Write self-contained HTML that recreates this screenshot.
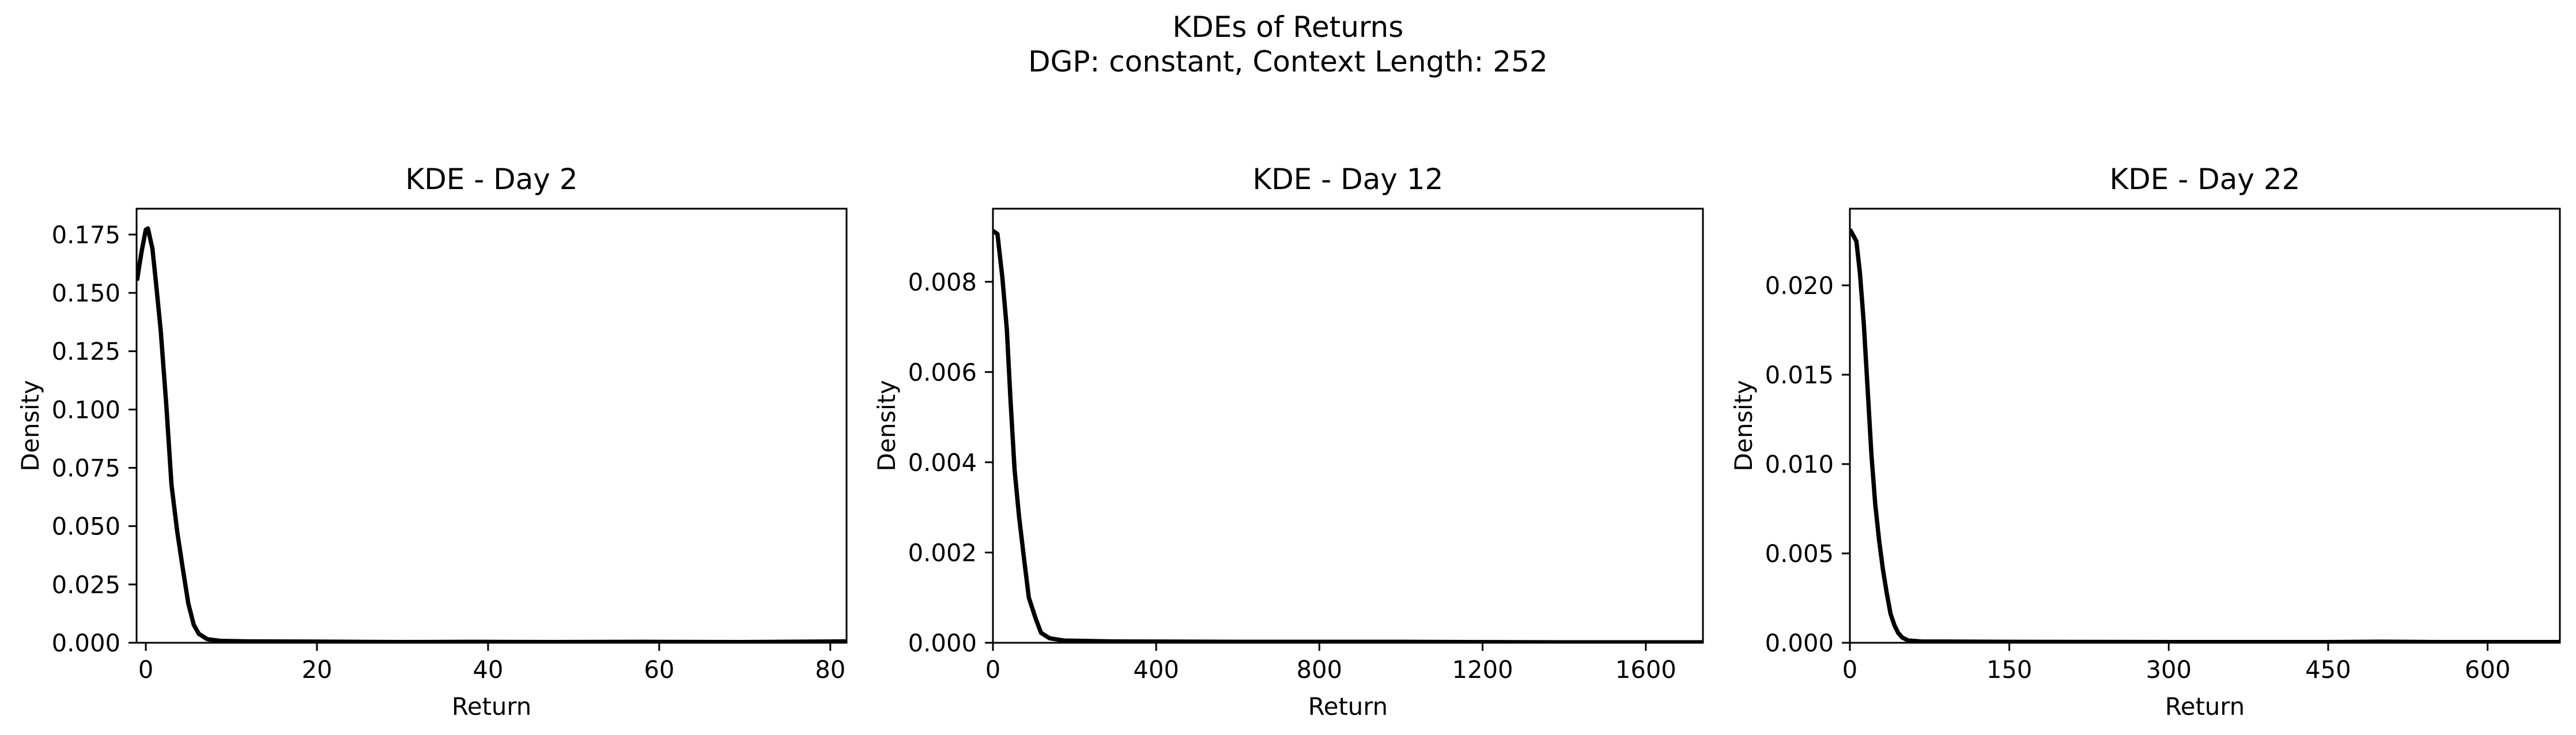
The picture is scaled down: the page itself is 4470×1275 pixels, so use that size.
<!DOCTYPE html>
<html><head><meta charset="utf-8"><style>
html,body{margin:0;padding:0;background:#fff;}
svg{display:block;font-family:"DejaVu Sans","Liberation Sans",sans-serif;}
</style></head><body>
<svg id="fig" width="4470" height="1275" viewBox="0 0 4470 1275" xmlns="http://www.w3.org/2000/svg">
<rect width="4470" height="1275" fill="#fff"/>
<text x="2235" y="64" font-size="50" text-anchor="middle">KDEs of Returns</text>
<text x="2235" y="124" font-size="50" text-anchor="middle">DGP: constant, Context Length: 252</text>
</svg>
<script>
// Panel 1 data
const day2X = [-1.03,-0.5,0,0.25,0.77,1.2,1.74,2.4,3.0,3.67,4.3,4.96,5.6,6.2,7.2,8.8,12,20,30,38,48,58,70,82];
const day2Y = [0.1553,0.1676,0.1771,0.1776,0.169,0.1538,0.1338,0.1015,0.0677,0.0477,0.0323,0.0169,0.0077,0.0038,0.0015,0.0008,0.0006,0.0005,0.0003,0.0004,0.0003,0.0004,0.0003,0.0006];
const day2Ticks = [0,20,40,60,80];
const day2YTicks = [0,0.025,0.05,0.075,0.1,0.125,0.15,0.175];
const day2YLabels = ["0.000","0.025","0.050","0.075","0.100","0.125","0.150","0.175"];
// Panel 2 data
const day12X = [0,11,23,34,43,53,64,76,88,105,118,139,173,295,600,1000,1400,1740];
const day12Y = [0.00913,0.00906,0.0081,0.00695,0.0054,0.00384,0.0028,0.00188,0.001,0.00053,0.00022,0.0001,0.00005,0.00003,0.00002,0.00002,0.00001,0.00001];
const day12Ticks = [0,400,800,1200,1600];
const day12YTicks = [0,0.002,0.004,0.006,0.008];
const day12YLabels = ["0.000","0.002","0.004","0.006","0.008"];
// Panel 3 data
const day22X = [0,3.1,6.1,9.4,13,16.6,20.3,23.9,27.5,31.1,34.7,38.3,42,45.6,49.2,54.6,67,150,300,450,500,550,668];
const day22Y = [0.02313,0.0228,0.02247,0.02074,0.01794,0.01431,0.01052,0.00772,0.00574,0.00409,0.00277,0.00162,0.00096,0.00054,0.0003,0.00013,0.00007,0.00005,0.00004,0.00004,0.00006,0.00004,0.00004];
const day22Ticks = [0,150,300,450,600];
const day22YTicks = [0,0.005,0.01,0.015,0.02];
const day22YLabels = ["0.000","0.005","0.010","0.015","0.020"];

const NS = "http://www.w3.org/2000/svg";
const svg = document.getElementById('fig');
function mk(tag, attrs, parent){
  const e = document.createElementNS(NS, tag);
  for (const k in attrs) e.setAttribute(k, attrs[k]);
  (parent||svg).appendChild(e);
  return e;
}
const top_ = 362, bot = 1115;
function panel(id, left, title, xmin, xmax, ymax, xs, ys, xt, yt, ytl){
  const right = left + 1232;
  const g = mk('g', {});
  
  
  const sx = v => left + (v - xmin) / (xmax - xmin) * (right - left);
  const sy = v => bot - v / ymax * (bot - top_);
  let d = '';
  xs.forEach((x, i) => { d += (i ? 'L' : 'M') + sx(x).toFixed(1) + ',' + sy(ys[i]).toFixed(1); });
  const cp = mk('clipPath', {id: id + '-clip'}, g);
  mk('rect', {x: left, y: top_, width: right - left, height: bot - top_}, cp);
  const p = mk('path', {d: d, fill: 'none', stroke: '#000', 'stroke-width': 7.5, 'stroke-linejoin': 'round', 'clip-path': 'url(#' + id + '-clip)'}, g);
  
  
  const f = mk('rect', {x: left, y: top_, width: right - left, height: bot - top_, fill: 'none', stroke: '#000', 'stroke-width': 3}, g);
  
  
  xt.forEach(v => {
    const x = sx(v);
    mk('line', {x1: x, x2: x, y1: bot, y2: bot + 14, stroke: '#000', 'stroke-width': 3}, g);
    const t = mk('text', {x: x, y: 1176, 'font-size': 41.7, 'text-anchor': 'middle'}, g);
    
    
    t.textContent = String(v);
  });
  yt.forEach((v, i) => {
    const y = sy(v);
    mk('line', {x1: left - 14, x2: left, y1: y, y2: y, stroke: '#000', 'stroke-width': 3}, g);
    const t = mk('text', {x: left - 28, y: y + 15, 'font-size': 41.7, 'text-anchor': 'end'}, g);
    
    
    t.textContent = ytl[i];
  });
  const tt = mk('text', {x: (left + right) / 2, y: 328, 'font-size': 50, 'text-anchor': 'middle'}, g);
  
  
  tt.textContent = title;
  const xl = mk('text', {x: (left + right) / 2, y: 1240, 'font-size': 41.7, 'text-anchor': 'middle'}, g);
  
  
  xl.textContent = 'Return';
  const cy = (top_ + bot) / 2, cx = left - 170;
  const yl = mk('text', {x: cx, y: cy, 'font-size': 41.7, 'text-anchor': 'middle', transform: 'rotate(-90 ' + cx + ' ' + cy + ')'}, g);
  
  
  yl.textContent = 'Density';
}
panel('day2', 237, 'KDE - Day 2', -1.08, 81.9, 0.1861, day2X, day2Y, day2Ticks, day2YTicks, day2YLabels);
panel('day12', 1723, 'KDE - Day 12', 0, 1740, 0.00962, day12X, day12Y, day12Ticks, day12YTicks, day12YLabels);
panel('day22', 3210, 'KDE - Day 22', 0, 668, 0.02429, day22X, day22Y, day22Ticks, day22YTicks, day22YLabels);
</script>
</body></html>
